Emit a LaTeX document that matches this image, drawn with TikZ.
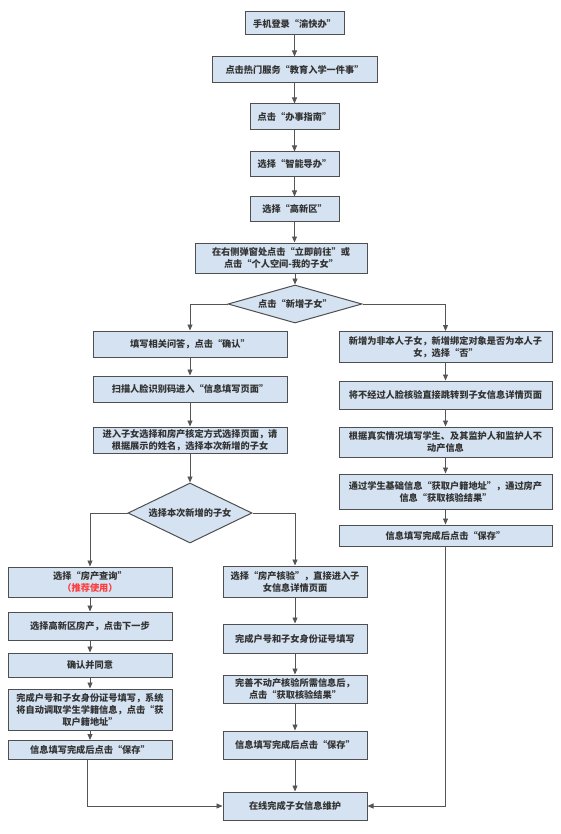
\documentclass[tikz,border=0pt]{standalone}
\usepackage{fontspec}
\setmainfont{Noto Sans CJK SC}
\usetikzlibrary{arrows.meta,shapes.geometric}
\definecolor{boxfill}{HTML}{D4E2F1}
\definecolor{boxline}{HTML}{4F4F4F}
\definecolor{lncol}{HTML}{555555}
\definecolor{txt}{HTML}{333333}
\definecolor{redtxt}{HTML}{FF3B3B}
\begin{document}
\begin{tikzpicture}[x=1pt,y=-1pt,
  txtfont/.style={font=\fontsize{9.2}{12}\selectfont\bfseries},
  box/.style={draw=boxline,fill=boxfill,line width=1pt,rectangle,inner sep=0pt,align=center,text=txt,txtfont},
  dec/.style={draw=boxline,fill=boxfill,line width=1pt,diamond,inner sep=0pt,text=txt,txtfont},
  arr/.style={draw=lncol,line width=0.9pt,-{Triangle[width=5pt,length=6pt]}}
]
\useasboundingbox (0,0) rectangle (561,834);
% main column
\node[box,minimum width=99pt,minimum height=23pt] (b1) at (294.5,23.5) {手机登录“渝快办”};
\node[box,minimum width=165pt,minimum height=26pt] (b2) at (294.5,70) {点击热门服务“教育入学一件事”};
\node[box,minimum width=89pt,minimum height=26pt] (b3) at (294.5,117) {点击“办事指南”};
\node[box,minimum width=89pt,minimum height=25pt] (b4) at (294.5,164.5) {选择“智能导办”};
\node[box,minimum width=89pt,minimum height=25pt] (b5) at (294.5,209.5) {选择“高新区”};
\node[box,minimum width=172pt,minimum height=30pt] (b6) at (281,258) {在右侧弹窗处点击“立即前往”或\\点击“个人空间-我的子女”};
\node[dec,minimum width=134pt,minimum height=38pt] (d1) at (295,304) {\makebox[0pt]{点击“新增子女”}};
% left branch
\node[box,minimum width=194pt,minimum height=26pt] (l1) at (190,344) {填写相关问答，点击“确认”};
\node[box,minimum width=194pt,minimum height=26pt] (l2) at (190,389) {扫描人脸识别码进入“信息填写页面”};
\node[box,minimum width=194pt,minimum height=26pt] (l3) at (190,440) {进入子女选择和房产核定方式选择页面，请\\根据展示的姓名，选择本次新增的子女};
\node[dec,minimum width=124pt,minimum height=60pt] (d2) at (190,513) {\makebox[0pt]{选择本次新增的子女}};
% right branch
\node[box,minimum width=213pt,minimum height=31pt] (r1) at (445.5,347) {新增为非本人子女，新增绑定对象是否为本人子\\女，选择“否”};
\node[box,minimum width=213pt,minimum height=28pt] (r2) at (445.5,395) {将不经过人脸核验直接跳转到子女信息详情页面};
\node[box,minimum width=213pt,minimum height=30pt] (r3) at (445.5,442) {根据真实情况填写学生、及其监护人和监护人不\\动产信息};
\node[box,minimum width=213pt,minimum height=35pt] (r4) at (445.5,491.5) {通过学生基础信息“获取户籍地址”，通过房产\\信息“获取核验结果”};
\node[box,minimum width=213pt,minimum height=21pt] (r5) at (445.5,535.5) {信息填写完成后点击“保存”};
% far left column
\node[box,minimum width=164pt,minimum height=30pt] (a1) at (90,582) {选择“房产查询”\\{\color{redtxt}（推荐使用）}};
\node[box,minimum width=164pt,minimum height=28pt] (a2) at (90,626) {选择高新区房产，点击下一步};
\node[box,minimum width=164pt,minimum height=24pt] (a3) at (90,665) {确认并同意};
\node[box,minimum width=164pt,minimum height=41pt] (a4) at (90,709.5) {完成户号和子女身份证号填写，系统\\将自动调取学生学籍信息，点击“获\\取户籍地址”};
\node[box,minimum width=164pt,minimum height=19pt] (a5) at (90,750) {信息填写完成后点击“保存”};
% middle column
\node[box,minimum width=144pt,minimum height=31pt] (m1) at (295,581.5) {选择“房产核验”，直接进入子\\女信息详情页面};
\node[box,minimum width=144pt,minimum height=29pt] (m2) at (295,638.5) {完成户号和子女身份证号填写};
\node[box,minimum width=144pt,minimum height=28pt] (m3) at (295,689) {完善不动产核验所需信息后，\\点击“获取核验结果”};
\node[box,minimum width=144pt,minimum height=28pt] (m4) at (295,745) {信息填写完成后点击“保存”};
\node[box,minimum width=144pt,minimum height=28pt] (fin) at (295,806) {在线完成子女信息维护};
% connectors
\draw[arr] (b1) -- (b2);
\draw[arr] (b2) -- (b3);
\draw[arr] (b3) -- (b4);
\draw[arr] (b4) -- (b5);
\draw[arr] (b5.south) -- (b5.south |- b6.north);
\draw[arr] (d1.north |- b6.south) -- (d1.north);
\draw[arr] (d1.west) -| (l1.north);
\draw[arr] (d1.east) -| (r1.north);
\draw[arr] (l1) -- (l2);
\draw[arr] (l2) -- (l3);
\draw[arr] (l3) -- (d2);
\draw[arr] (r1) -- (r2);
\draw[arr] (r2) -- (r3);
\draw[arr] (r3) -- (r4);
\draw[arr] (r4) -- (r5);
\draw[arr] (d2.west) -| (a1.north);
\draw[arr] (d2.east) -| (m1.north);
\draw[arr] (a1) -- (a2);
\draw[arr] (a2) -- (a3);
\draw[arr] (a3) -- (a4);
\draw[arr] (a4) -- (a5);
\draw[arr] (m1) -- (m2);
\draw[arr] (m2) -- (m3);
\draw[arr] (m3) -- (m4);
\draw[arr] (m4) -- (fin);
\draw[arr] ([xshift=-3pt]a5.south) |- (fin.west);
\draw[arr] (r5.south) |- (fin.east);
\end{tikzpicture}
\end{document}
